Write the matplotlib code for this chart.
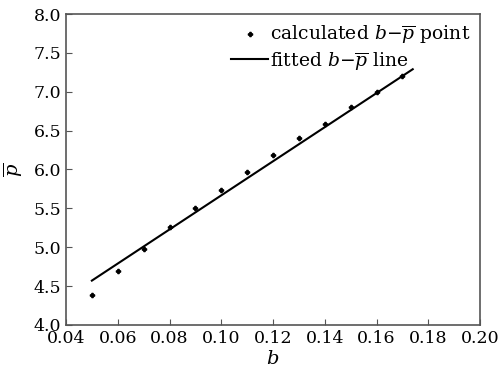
import matplotlib
matplotlib.use("Agg")
import matplotlib.pyplot as plt

# calculated points
b_vals = [0.05, 0.06, 0.07, 0.08, 0.09, 0.10, 0.11, 0.12, 0.13, 0.14, 0.15, 0.16, 0.17]
p_vals = [4.39, 4.70, 4.98, 5.26, 5.50, 5.74, 5.97, 6.18, 6.40, 6.59, 6.80, 7.00, 7.20]

# fitted line (end points)
fit_b = [0.05, 0.174]
fit_p = [4.57, 7.29]

plt.rcParams['font.family'] = ['DejaVu Serif']
plt.rcParams['mathtext.fontset'] = 'dejavuserif'

fig = plt.figure(figsize=(5, 3.8), dpi=100)
ax = fig.add_axes([0.132, 0.145, 0.828, 0.818])

ax.plot(b_vals, p_vals, linestyle='none', marker='P', markersize=3,
        color='black', label=r'calculated $b$$-$$\overline{p}$ point')
ax.plot(fit_b, fit_p, color='black', linewidth=1.5,
        label=r'fitted $b$$-$$\overline{p}$ line')

ax.set_xlim(0.04, 0.20)
ax.set_ylim(4.0, 8.0)
ax.set_xticks([0.04, 0.06, 0.08, 0.10, 0.12, 0.14, 0.16, 0.18, 0.20])
ax.set_yticks([4.0, 4.5, 5.0, 5.5, 6.0, 6.5, 7.0, 7.5, 8.0])
ax.xaxis.set_major_formatter(matplotlib.ticker.FormatStrFormatter('%.2f'))
ax.yaxis.set_major_formatter(matplotlib.ticker.FormatStrFormatter('%.1f'))
ax.tick_params(direction='in', labelsize=12.5, length=4, color='#555555')
for s in ax.spines.values():
    s.set_color('#555555')
    s.set_linewidth(1.2)

ax.set_xlabel(r'$b$', fontsize=14, labelpad=2)
ax.set_ylabel(r'$\overline{p}$', fontsize=14, labelpad=6)

ax.legend(loc='upper right', frameon=False, fontsize=13.5, handlelength=2.0,
          handletextpad=0.1, borderaxespad=0.1, labelspacing=0.2)

fig.savefig("out.png", dpi=100)
